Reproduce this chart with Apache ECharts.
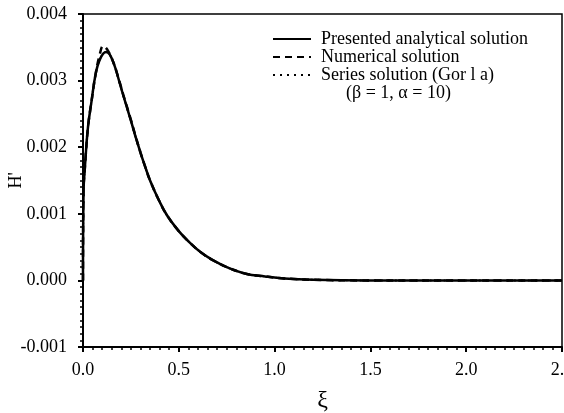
<!DOCTYPE html>
<html>
<head>
<meta charset="utf-8">
<script src="https://cdn.jsdelivr.net/npm/echarts@6/dist/echarts.min.js"></script>
<style>
html,body{margin:0;padding:0;background:#fff;}
#chart{width:564px;height:413px;}
</style>
</head>
<body>
<div id="chart"></div>
<script>
// Data
const xiAnalytical = [0, 0.003, 0.01, 0.026, 0.045, 0.066, 0.09, 0.12, 0.14, 0.165, 0.19, 0.21, 0.25, 0.275, 0.3, 0.323, 0.35, 0.4, 0.44, 0.5, 0.56, 0.62, 0.68, 0.75, 0.85, 0.95, 1.05, 1.2, 1.5, 2.0, 2.5];
const hAnalytical = [0, 0.00135, 0.0017, 0.0023, 0.0027, 0.0031, 0.00333, 0.00343, 0.00339, 0.00322, 0.00298, 0.00278, 0.0024, 0.00215, 0.00192, 0.00172, 0.0015, 0.00118, 0.00097, 0.00074, 0.00056, 0.00041, 0.0003, 0.0002, 0.0001, 0.00006, 0.00003, 0.00001, 0, 0, 0];
const xiNumerical = [0, 0.002, 0.01, 0.026, 0.045, 0.066, 0.088, 0.105, 0.13, 0.16, 0.19, 0.21, 0.25, 0.275, 0.3, 0.323, 0.35, 0.4, 0.44, 0.5, 0.56, 0.62, 0.68, 0.75, 0.85, 0.95, 1.05, 1.2, 1.5, 2.0, 2.5];
const hNumerical = [0, 0.0013, 0.0017, 0.0023, 0.0027, 0.0031, 0.0034, 0.00352, 0.00345, 0.00326, 0.00299, 0.00279, 0.00241, 0.00216, 0.00192, 0.00172, 0.0015, 0.00118, 0.00097, 0.00074, 0.00056, 0.00041, 0.0003, 0.0002, 0.0001, 0.00006, 0.00003, 0.00001, 0, 0, 0];
const xiSeries = [0, 0.003, 0.01, 0.026, 0.045, 0.066, 0.09, 0.12, 0.14, 0.165, 0.19, 0.21, 0.25, 0.275, 0.3, 0.323, 0.35, 0.4, 0.44, 0.5, 0.56, 0.62, 0.68, 0.75, 0.85, 0.95, 1.05, 1.2, 1.5, 2.0, 2.5];
const hSeries = [0, 0.00135, 0.0017, 0.0023, 0.0027, 0.0031, 0.00333, 0.00343, 0.00339, 0.00322, 0.00298, 0.00278, 0.0024, 0.00215, 0.00192, 0.00172, 0.0015, 0.00118, 0.00097, 0.00074, 0.00056, 0.00041, 0.0003, 0.0002, 0.0001, 0.00006, 0.00003, 0.00001, 0, 0, 0];
const seriesNames = ['Presented analytical solution', 'Numerical solution', 'Series solution (Gor l a)'];
const paramText = '(\u03B2 = 1, \u03B1 = 10)';

function pairs(xs, ys) { return xs.map((x, i) => [x, ys[i]]); }

const font = '"Liberation Serif", "DejaVu Serif", serif';
const chart = echarts.init(document.getElementById('chart'), null, {renderer: 'canvas'});
chart.setOption({
  animation: false,
  backgroundColor: '#fff',
  grid: {left: 83, right: 2, top: 14, bottom: 66, show: true, borderColor: '#000', borderWidth: 1.5,
         containLabel: false, outerBoundsMode: 'none'},
  xAxis: {
    type: 'value', min: 0, max: 2.5, interval: 0.5,
    name: '\u03BE', nameLocation: 'middle', nameGap: 42, nameMoveOverlap: false,
    nameTextStyle: {fontFamily: font, fontSize: 24, color: '#000'},
    axisLine: {onZero: false, lineStyle: {color: '#000', width: 2}},
    axisTick: {show: true, inside: false, length: 5, lineStyle: {color: '#000', width: 2}},
    minorTick: {show: true, splitNumber: 10, length: 3, lineStyle: {color: '#000', width: 1.5}},
    splitLine: {show: false},
    axisLabel: {fontFamily: font, fontSize: 18, color: '#000', margin: 14, formatter: v => v.toFixed(1)}
  },
  yAxis: {
    type: 'value', min: -0.001, max: 0.004, interval: 0.001,
    name: "H'", nameLocation: 'middle', nameGap: 58, nameRotate: 90, nameMoveOverlap: false,
    nameTextStyle: {fontFamily: font, fontSize: 18, color: '#000'},
    axisLine: {onZero: false, lineStyle: {color: '#000', width: 2}},
    axisTick: {show: true, inside: false, length: 5, lineStyle: {color: '#000', width: 2}},
    minorTick: {show: true, splitNumber: 10, length: 3, lineStyle: {color: '#000', width: 1.5}},
    splitLine: {show: false},
    axisLabel: {fontFamily: font, fontSize: 18, color: '#000', margin: 16, formatter: v => v.toFixed(3)}
  },
  legend: {
    orient: 'vertical', left: 267, top: 25, itemGap: 0, itemWidth: 38, itemHeight: 16,
    itemStyle: {opacity: 0},
    textStyle: {fontFamily: font, fontSize: 18, color: '#000', padding: [0, 0, 0, 5]},
    data: seriesNames
  },
  graphic: [{
    type: 'text', left: 346, top: 84,
    style: {text: paramText, fontFamily: font, fontSize: 18, fill: '#000'}
  }],
  series: [
    {name: seriesNames[2], type: 'line', data: pairs(xiSeries, hSeries), symbol: 'none', smooth: 0.4,
     lineStyle: {color: '#000', width: 2, type: [2, 5]}, itemStyle: {color: '#000'}},
    {name: seriesNames[1], type: 'line', data: pairs(xiNumerical, hNumerical), symbol: 'none', smooth: 0.4,
     lineStyle: {color: '#000', width: 2.5, type: [7, 5]}, itemStyle: {color: '#000'}},
    {name: seriesNames[0], type: 'line', data: pairs(xiAnalytical, hAnalytical), symbol: 'none', smooth: 0.4,
     lineStyle: {color: '#000', width: 2.5, type: 'solid'}, itemStyle: {color: '#000'}}
  ]
});
</script>
</body>
</html>
